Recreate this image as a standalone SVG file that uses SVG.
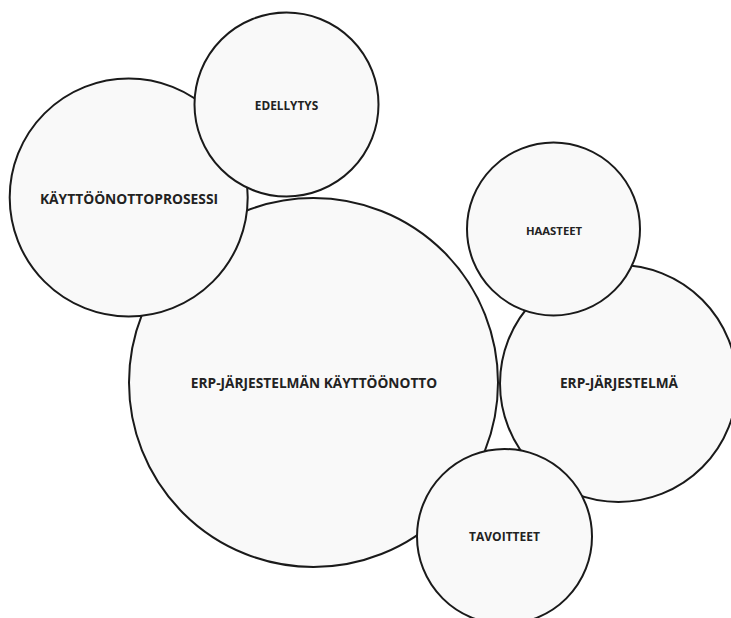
<svg xmlns="http://www.w3.org/2000/svg" width="731" height="618" viewBox="0 0 731 618">
<style>
.c{fill:#f9f9f9;stroke:#1a1a1a;stroke-width:2}
.t{font-family:"Open Sans","Liberation Sans",sans-serif;font-weight:bold;fill:#222;text-anchor:middle}
</style>
<rect width="731" height="618" fill="#fff"/>
<g id="erp-kayttoonotto"><circle class="c" cx="313.5" cy="382.5" r="184.5"/><text class="t" x="314" y="388" font-size="13.7">ERP-JÄRJESTELMÄN KÄYTTÖÖNOTTO</text></g>
<g id="erp-jarjestelma"><circle class="c" cx="618.5" cy="383.5" r="118.5"/><text class="t" x="619" y="388" font-size="13.7">ERP-JÄRJESTELMÄ</text></g>
<g id="kayttoonottoprosessi"><circle class="c" cx="128.7" cy="197.5" r="119"/><text class="t" x="129" y="204" font-size="13.8">KÄYTTÖÖNOTTOPROSESSI</text></g>
<g id="edellytys"><circle class="c" cx="286.5" cy="104.5" r="92"/><text class="t" x="286.5" y="110" font-size="11.8">EDELLYTYS</text></g>
<g id="haasteet"><circle class="c" cx="553.5" cy="229" r="86.5"/><text class="t" x="554" y="235" font-size="11.3">HAASTEET</text></g>
<g id="tavoitteet"><circle class="c" cx="504.5" cy="536.5" r="87.5"/><text class="t" x="504.5" y="541" font-size="12">TAVOITTEET</text></g>
<g id="connectors"></g>
</svg>
